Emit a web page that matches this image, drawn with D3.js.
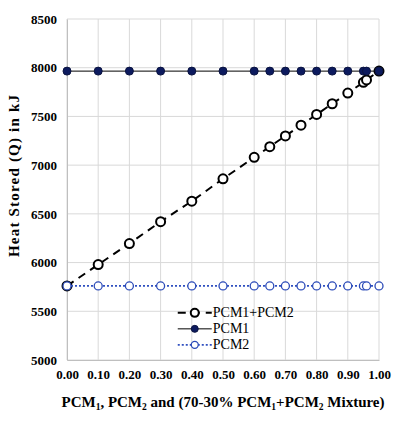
<!DOCTYPE html>
<html>
<head>
<meta charset="utf-8">
<script src="https://cdn.jsdelivr.net/npm/d3@7"></script>
<style>
  body { margin: 0; background: #fff; }
  svg text { font-family: "Liberation Serif", "Times New Roman", Times, "DejaVu Serif", serif; }
</style>
</head>
<body>
<div id="chart"></div>
<script>
// data
var fractions = [0, 0.1, 0.2, 0.3, 0.4, 0.5, 0.6, 0.65, 0.7, 0.75, 0.8, 0.85, 0.9, 0.95, 0.96, 1.0];
var mixtureQ = [5760, 5980, 6195, 6420, 6630, 6860, 7080, 7190, 7300, 7410, 7520, 7630, 7740, 7850, 7875, 7965];
var pcm1Q = [7965, 7965, 7965, 7965, 7965, 7965, 7965, 7965, 7965, 7965, 7965, 7965, 7965, 7965, 7965, 7965];
var pcm2Q = [5760, 5760, 5760, 5760, 5760, 5760, 5760, 5760, 5760, 5760, 5760, 5760, 5760, 5760, 5760, 5760];
var xTicks = [0, 0.1, 0.2, 0.3, 0.4, 0.5, 0.6, 0.7, 0.8, 0.9, 1.0];
var yTicks = [5000, 5500, 6000, 6500, 7000, 7500, 8000, 8500];
var seriesNames = ["PCM1+PCM2", "PCM1", "PCM2"];

var svgWidth = 400;
var svgHeight = 423;
var margin = { top: 19, right: 21, bottom: 63, left: 67 };
var width = svgWidth - margin.left - margin.right;
var height = svgHeight - margin.top - margin.bottom;

var svg = d3.select("#chart")
  .append("svg")
  .attr("width", svgWidth)
  .attr("height", svgHeight);

var chartGroup = svg.append("g")
  .attr("transform", `translate(${margin.left}, ${margin.top})`);

var x = d3.scaleLinear().domain([0, 1]).range([0, width]);
var y = d3.scaleLinear().domain([5000, 8500]).range([height, 0]);

// gridlines
chartGroup.append("g").selectAll("line")
  .data(xTicks)
  .enter()
  .append("line")
  .attr("x1", d => x(d)).attr("x2", d => x(d))
  .attr("y1", 0).attr("y2", height)
  .attr("stroke", "#d9d9d9");

chartGroup.append("g").selectAll("line")
  .data(yTicks)
  .enter()
  .append("line")
  .attr("x1", 0).attr("x2", width)
  .attr("y1", d => y(d)).attr("y2", d => y(d))
  .attr("stroke", "#d9d9d9");

// axes
var bottomAxis = d3.axisBottom(x).tickValues(xTicks).tickFormat(d3.format(".2f")).tickSize(0).tickPadding(10);
var leftAxis = d3.axisLeft(y).tickValues(yTicks).tickFormat(d3.format("d")).tickSize(0).tickPadding(10);

var xAxis = chartGroup.append("g")
  .attr("transform", `translate(0, ${height})`)
  .call(bottomAxis);
var yAxis = chartGroup.append("g").call(leftAxis);

[xAxis, yAxis].forEach(function (ax) {
  ax.attr("font-family", null);
  ax.select(".domain").attr("stroke", "#bfbfbf");
  ax.selectAll("text")
    .attr("font-weight", "bold")
    .attr("font-size", "13px")
    .attr("fill", "#000");
});

// series
var pts = function (vals) { return fractions.map((f, i) => ({ x: f, y: vals[i] })); };
var line = d3.line().x(d => x(d.x)).y(d => y(d.y));

var series = [
  { name: seriesNames[0], data: pts(mixtureQ), stroke: "#000", width: 2, dash: "8,6", r: 4.5, fill: "#fff", mstroke: "#000", mwidth: 2 },
  { name: seriesNames[1], data: pts(pcm1Q), stroke: "#000", width: 1, dash: null, r: 4, fill: "#0c1a5e", mstroke: "#0a1340", mwidth: 1 },
  { name: seriesNames[2], data: pts(pcm2Q), stroke: "#3050c0", width: 1.8, dash: "2,2", r: 4, fill: "#fff", mstroke: "#2c4bb8", mwidth: 1.3 }
];

series.forEach(function (s) {
  chartGroup.append("path")
    .datum(s.data)
    .attr("d", line)
    .attr("fill", "none")
    .attr("stroke", s.stroke)
    .attr("stroke-width", s.width)
    .attr("stroke-dasharray", s.dash);

  chartGroup.append("g").selectAll("circle")
    .data(s.data)
    .enter()
    .append("circle")
    .attr("cx", d => x(d.x))
    .attr("cy", d => y(d.y))
    .attr("r", s.r)
    .attr("fill", s.fill)
    .attr("stroke", s.mstroke)
    .attr("stroke-width", s.mwidth);
});

// legend
var legend = chartGroup.append("g")
  .attr("transform", `translate(${x(0.355)}, ${y(5484)})`);

series.forEach(function (s, i) {
  var row = legend.append("g").attr("transform", `translate(0, ${i * 16})`);
  row.append("line")
    .attr("x1", 0).attr("x2", 34)
    .attr("stroke", s.stroke)
    .attr("stroke-width", s.width)
    .attr("stroke-dasharray", s.dash);
  row.append("circle")
    .attr("cx", 17).attr("cy", 0)
    .attr("r", s.r - 0.5)
    .attr("fill", s.fill)
    .attr("stroke", s.mstroke)
    .attr("stroke-width", s.mwidth);
  row.append("text")
    .attr("x", 35)
    .attr("y", 4.5)
    .attr("font-size", "14px")
    .attr("fill", "#000")
    .text(s.name);
});

// axis titles
var xTitle = svg.append("text")
  .attr("x", margin.left + width / 2)
  .attr("y", 407)
  .attr("text-anchor", "middle")
  .attr("font-weight", "bold")
  .attr("font-size", "15px");
xTitle.append("tspan").text("PCM");
xTitle.append("tspan").attr("font-size", "9.5px").attr("dy", 3).text("1");
xTitle.append("tspan").attr("dy", -3).text(", PCM");
xTitle.append("tspan").attr("font-size", "9.5px").attr("dy", 3).text("2");
xTitle.append("tspan").attr("dy", -3).text(" and (70-30% PCM");
xTitle.append("tspan").attr("font-size", "9.5px").attr("dy", 3).text("1");
xTitle.append("tspan").attr("dy", -3).text("+PCM");
xTitle.append("tspan").attr("font-size", "9.5px").attr("dy", 3).text("2");
xTitle.append("tspan").attr("dy", -3).text(" Mixture)");

svg.append("text")
  .attr("transform", "translate(19, 176) rotate(-90)")
  .attr("text-anchor", "middle")
  .attr("font-weight", "bold")
  .attr("font-size", "15px")
  .attr("textLength", 162)
  .attr("lengthAdjust", "spacing")
  .text("Heat Stored (Q) in kJ");
</script>
</body>
</html>
